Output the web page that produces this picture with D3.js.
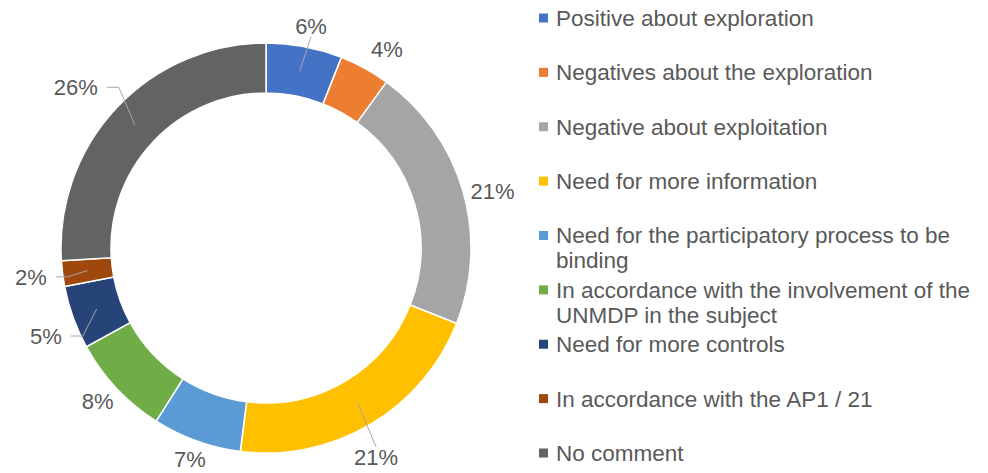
<!DOCTYPE html>
<html>
<head>
<meta charset="utf-8">
<script src="https://cdn.jsdelivr.net/npm/d3@7"></script>
<style>
  html, body { margin: 0; padding: 0; background: #ffffff; }
  svg { display: block; font-family: "Liberation Sans", Arial, sans-serif; }
</style>
</head>
<body>
<svg id="chart" width="988" height="473"></svg>
<script>
// Share of comments by topic (percent)
const categories = [
  "Positive about exploration",
  "Negatives about the exploration",
  "Negative about exploitation",
  "Need for more information",
  "Need for the participatory process to be binding",
  "In accordance with the involvement of the UNMDP in the subject",
  "Need for more controls",
  "In accordance with the AP1 / 21",
  "No comment"
];
const values = [6, 4, 21, 21, 7, 8, 5, 2, 26];
const colors = ["#4472C4", "#ED7D31", "#A5A5A5", "#FFC000", "#5B9BD5",
                "#70AD47", "#264478", "#9E480E", "#636363"];

// Layout
const W = 988, H = 473;
const cx = 266, cy = 248;
const rOuter = 205, rInner = 155;
const textColor = "#595959";
const leaderColor = "#A6A6A6";

// Small per-label placement tweaks [angle in degrees, radius in px]
const labelNudge = [[0.7, 0], [2.6, 2.6], [2.2, -5], [2.8, 3], [0, -3.5],
                    [0.8, -4], [-2, 4.3], [0.2, 5.2], [-3, 12.5]];
const withLeader = [true, false, false, true, false, false, true, true, true];

const data = categories.map((c, i) => ({ name: c, value: values[i], color: colors[i], i }));

const svg = d3.select("#chart");

const pie = d3.pie().sort(null).value(d => d.value);
const arcs = pie(data);
const arc = d3.arc().innerRadius(rInner).outerRadius(rOuter);

const g = svg.append("g").attr("transform", `translate(${cx},${cy})`);

g.selectAll("path.slice")
  .data(arcs)
  .join("path")
  .attr("class", "slice")
  .attr("d", arc)
  .attr("fill", d => d.data.color)
  .attr("stroke", "#ffffff")
  .attr("stroke-width", 1.5)
  .attr("stroke-linejoin", "round");

// Percent labels around the ring
const polar = (a, r) => [r * Math.sin(a), -r * Math.cos(a)];
const midR = (rInner + rOuter) / 2;

const labels = g.selectAll("text.pct")
  .data(arcs)
  .join("text")
  .attr("class", "pct")
  .attr("text-anchor", "middle")
  .attr("dy", "0.35em")
  .attr("font-size", 22)
  .attr("fill", textColor)
  .text(d => d.data.value + "%");

labels.each(function(d) {
  const w = this.getComputedTextLength();
  const halfH = 8;
  const mid = (d.startAngle + d.endAngle) / 2;
  const nd = labelNudge[d.data.i];
  const base = 215 + Math.abs(Math.sin(mid)) * w / 2 + Math.abs(Math.cos(mid)) * halfH;
  const a = mid + nd[0] * Math.PI / 180;
  const r = base + nd[1];
  const [x, y] = polar(a, r);
  d3.select(this).attr("x", x).attr("y", y);

  if (!withLeader[d.data.i]) return;
  const target = polar(mid, midR);
  let pts;
  if (Math.abs(Math.sin(a)) > 0.7) {
    // label beside the ring: short horizontal run, then into the slice
    const dir = x < 0 ? 1 : -1;
    const sx = x + dir * (w / 2 + 9);
    pts = [[sx, y], [sx + dir * 12, y], target];
  } else {
    // label above or below the ring
    const dir = y < 0 ? 1 : -1;
    pts = [[x, y + dir * (halfH + 2)], target];
  }
  g.append("path")
    .attr("d", d3.line()(pts))
    .attr("fill", "none")
    .attr("stroke", leaderColor)
    .attr("stroke-width", 1);
});

// Legend
const legendX = 539, textX = 556, maxW = 428, lineH = 25;
const rowY = d3.scalePoint().domain(categories).range([18, 453]);

const legend = svg.append("g");
const items = legend.selectAll("g.item")
  .data(data)
  .join("g")
  .attr("class", "item")
  .attr("transform", d => `translate(0,${rowY(d.name)})`);

items.append("rect")
  .attr("x", legendX)
  .attr("y", -4.5)
  .attr("width", 9)
  .attr("height", 9)
  .attr("fill", d => d.color);

items.each(function(d) {
  const t = d3.select(this).append("text")
    .attr("x", textX)
    .attr("font-size", 22.5)
    .attr("fill", textColor);
  const words = d.name.split(" ");
  let line = [];
  let tspan = t.append("tspan").attr("x", textX).attr("dy", "0.35em");
  for (const word of words) {
    line.push(word);
    tspan.text(line.join(" "));
    if (tspan.node().getComputedTextLength() > maxW && line.length > 1) {
      line.pop();
      tspan.text(line.join(" "));
      line = [word];
      tspan = t.append("tspan").attr("x", textX).attr("dy", lineH).text(word);
    }
  }
});
</script>
</body>
</html>
